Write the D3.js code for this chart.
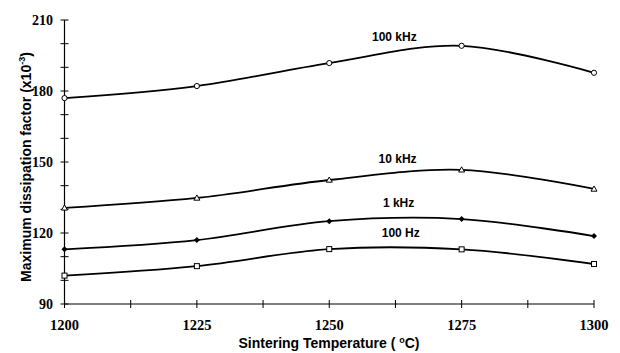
<!DOCTYPE html>
<html><head><meta charset="utf-8">
<script src="https://cdn.jsdelivr.net/npm/d3@7"></script>
<style>body{margin:0;background:#fff}svg{display:block}</style>
</head><body><svg id="c" width="620" height="353"></svg>
<script>
const temps = [1200, 1225, 1250, 1275, 1300];
const f100kHz = [177.0, 182.1, 191.8, 199.1, 187.7];
const f10kHz = [130.6, 134.8, 142.4, 146.7, 138.6];
const f1kHz = [113.1, 117.0, 125.0, 125.9, 118.7];
const f100Hz = [102.0, 106.0, 113.2, 113.1, 106.9];
const seriesNames = ["100 kHz", "10 kHz", "1 kHz", "100 Hz"];
const markers = ["circle", "triangle", "diamond", "square"];
const yTicks = [90, 120, 150, 180, 210];
const xTicks = [1200, 1225, 1250, 1275, 1300];
const labelPos = [[1262.3, 201.2], [1262.9, 149.6], [1263.1, 131.0], [1263.5, 118.5]];

const svg = d3.select("#c");
const x = d3.scaleLinear().domain([1200, 1300]).range([64.5, 594]);
const y = d3.scaleLinear().domain([90, 210]).range([304, 20]);

// Axes
const g = svg.append("g");
g.append("line").attr("x1", x(1200)).attr("x2", x(1300)).attr("y1", y(90)).attr("y2", y(90)).attr("stroke", "#000").attr("stroke-width", 1.2);
g.append("line").attr("x1", x(1200)).attr("x2", x(1200)).attr("y1", y(90)).attr("y2", y(210)).attr("stroke", "#000").attr("stroke-width", 1.2);
d3.range(90, 211, 10).forEach(v => {
  g.append("line").attr("x1", x(1200) - 4).attr("x2", x(1200) + 4).attr("y1", y(v)).attr("y2", y(v)).attr("stroke", "#000").attr("stroke-width", 1);
});
d3.range(1200, 1301, 12.5).forEach(v => {
  g.append("line").attr("x1", x(v)).attr("x2", x(v)).attr("y1", y(90) - 4).attr("y2", y(90) + 4).attr("stroke", "#000").attr("stroke-width", 1);
});
yTicks.forEach(v => {
  g.append("text").attr("x", 53).attr("y", y(v) + 5).attr("text-anchor", "end")
    .attr("font-family", "Liberation Serif, Times New Roman, serif").attr("font-weight", "bold").attr("font-size", 14).text(v);
});
xTicks.forEach(v => {
  g.append("text").attr("x", x(v)).attr("y", 330).attr("text-anchor", "middle")
    .attr("font-family", "Liberation Serif, Times New Roman, serif").attr("font-weight", "bold").attr("font-size", 14.5).text(v);
});

// Titles
const xt = svg.append("text").attr("x", 329).attr("y", 348).attr("text-anchor", "middle")
  .attr("font-family", "Liberation Sans, Arial, sans-serif").attr("font-weight", "bold").attr("font-size", 14);
xt.append("tspan").text("Sintering Temperature ( ");
xt.append("tspan").attr("font-size", 9).attr("dy", -5).text("o");
xt.append("tspan").attr("dy", 5).text("C)");

const yt = svg.append("text").attr("transform", "translate(31,167) rotate(-90)").attr("text-anchor", "middle")
  .attr("font-family", "Liberation Sans, Arial, sans-serif").attr("font-weight", "bold").attr("font-size", 14);
yt.append("tspan").text("Maximum dissipation factor (x10");
yt.append("tspan").attr("font-size", 9).attr("dy", -6).text("-3");
yt.append("tspan").attr("dy", 6).text(")");

// Series
const all = [f100kHz, f10kHz, f1kHz, f100Hz];
const line = d3.line().x(d => x(d[0])).y(d => y(d[1])).curve(d3.curveCardinal.tension(0));
all.forEach((vals, i) => {
  const pts = temps.map((t, j) => [t, vals[j]]);
  svg.append("path").attr("d", line(pts)).attr("fill", "none").attr("stroke", "#000").attr("stroke-width", 1.8);
  pts.forEach(p => {
    const cx = x(p[0]), cy = y(p[1]);
    const m = markers[i];
    if (m === "circle") {
      svg.append("circle").attr("cx", cx).attr("cy", cy).attr("r", 2.6).attr("fill", "#fff").attr("stroke", "#000").attr("stroke-width", 1);
    } else if (m === "triangle") {
      svg.append("path").attr("d", `M${cx},${cy - 3}L${cx + 3},${cy + 2.2}L${cx - 3},${cy + 2.2}Z`).attr("fill", "#fff").attr("stroke", "#000").attr("stroke-width", 1);
    } else if (m === "diamond") {
      svg.append("path").attr("d", `M${cx},${cy - 3}L${cx + 3},${cy}L${cx},${cy + 3}L${cx - 3},${cy}Z`).attr("fill", "#000");
    } else {
      svg.append("rect").attr("x", cx - 2.5).attr("y", cy - 2.5).attr("width", 5).attr("height", 5).attr("fill", "#fff").attr("stroke", "#000").attr("stroke-width", 1);
    }
  });
  svg.append("text").attr("x", x(labelPos[i][0])).attr("y", y(labelPos[i][1])).attr("text-anchor", "middle")
    .attr("font-family", "Liberation Sans, Arial, sans-serif").attr("font-weight", "bold").attr("font-size", 12).text(seriesNames[i]);
});
</script></body></html>
